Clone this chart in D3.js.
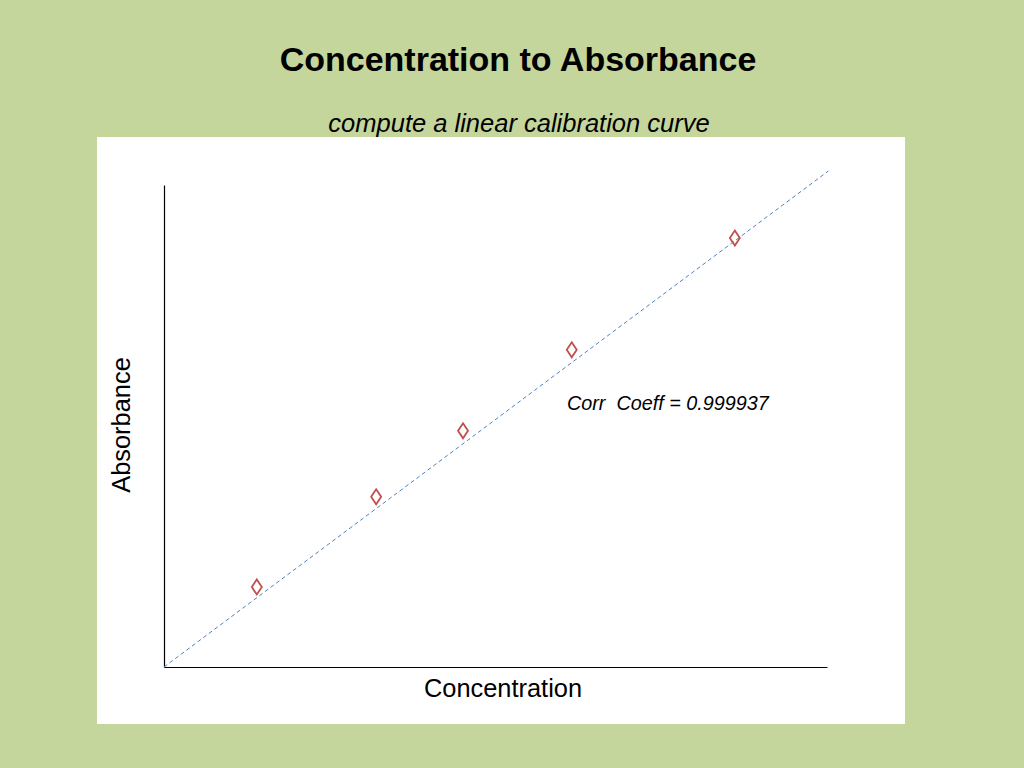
<!DOCTYPE html>
<html>
<head>
<meta charset="utf-8">
<script src="https://cdn.jsdelivr.net/npm/d3@7"></script>
<style>
  body { margin: 0; background: #c4d69b; }
  svg { display: block; font-family: "Liberation Sans", Arial, sans-serif; }
</style>
</head>
<body>
<svg id="chart" width="1024" height="768"></svg>
<script>
// measured points (concentration, absorbance)
const concentration = [1.40, 3.20, 4.51, 6.15, 8.61];
const absorbance = [0.166, 0.353, 0.490, 0.658, 0.890];
// fitted calibration line end points
const fitConc = [0, 10.02];
const fitAbs = [0, 1.029];
const corrCoeff = "0.999937";

const svg = d3.select("#chart");

svg.append("rect")
  .attr("x", 97).attr("y", 137)
  .attr("width", 808).attr("height", 587)
  .attr("fill", "#ffffff");

svg.append("text")
  .attr("x", 518).attr("y", 71)
  .attr("text-anchor", "middle")
  .style("font-weight", "bold")
  .style("font-size", "34px")
  .text("Concentration to Absorbance");

svg.append("text")
  .attr("x", 519).attr("y", 132)
  .attr("text-anchor", "middle")
  .style("font-style", "italic")
  .style("font-size", "25.5px")
  .text("compute a linear calibration curve");

let x = d3.scaleLinear().domain([0, 10]).range([164, 827]);
let y = d3.scaleLinear().domain([0, 1]).range([667, 185]);

let g = svg.append("g");

// axes without ticks
g.append("g")
  .attr("transform", "translate(0," + y(0) + ")")
  .call(d3.axisBottom(x).ticks(0).tickSize(0).tickSizeOuter(0))
  .call(a => a.select(".domain").attr("stroke", "#000").attr("stroke-width", 1.2));
g.append("g")
  .attr("transform", "translate(" + x(0) + ",0)")
  .call(d3.axisLeft(y).ticks(0).tickSize(0).tickSizeOuter(0))
  .call(a => a.select(".domain").attr("stroke", "#000").attr("stroke-width", 1.2));

let fit = fitConc.map((c, i) => [c, fitAbs[i]]);
g.append("path")
  .datum(fit)
  .attr("d", d3.line().x(d => x(d[0])).y(d => y(d[1])))
  .attr("fill", "none")
  .attr("stroke", "#4f81bd")
  .attr("stroke-width", 1)
  .attr("stroke-dasharray", "4,3");

let pts = concentration.map((c, i) => ({c: c, a: absorbance[i]}));
g.selectAll("path.marker").data(pts).enter().append("path")
  .attr("class", "marker")
  .attr("d", d => {
    let cx = x(d.c), cy = y(d.a);
    return "M" + cx + "," + (cy - 7.5) + "L" + (cx + 5) + "," + cy +
           "L" + cx + "," + (cy + 7.5) + "L" + (cx - 5) + "," + cy + "Z";
  })
  .attr("fill", "none")
  .attr("stroke", "#c0504d")
  .attr("stroke-width", 1.8);

svg.append("text")
  .attr("x", 567).attr("y", 410)
  .attr("xml:space", "preserve")
  .style("font-style", "italic")
  .style("font-size", "19.8px")
  .text("Corr  Coeff = " + corrCoeff);

svg.append("text")
  .attr("x", 503).attr("y", 697)
  .attr("text-anchor", "middle")
  .style("font-size", "25.4px")
  .text("Concentration");

svg.append("text")
  .attr("transform", "translate(130,425) rotate(-90)")
  .attr("text-anchor", "middle")
  .style("font-size", "25.4px")
  .text("Absorbance");
</script>
</body>
</html>
